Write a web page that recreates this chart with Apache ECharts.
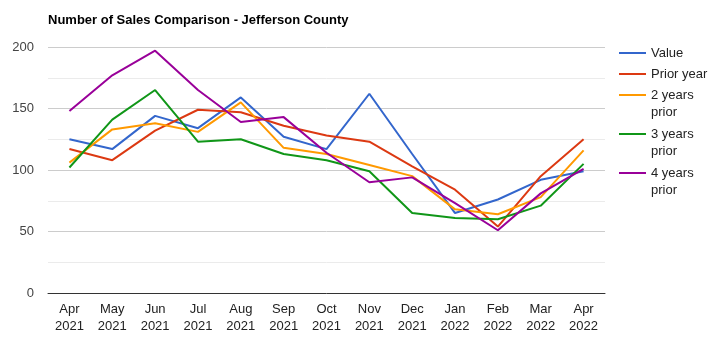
<!DOCTYPE html>
<html>
<head>
<meta charset="utf-8">
<script src="https://cdn.jsdelivr.net/npm/echarts@6/dist/echarts.min.js"></script>
<style>
  html, body { margin: 0; padding: 0; background: #fff; }
  #chart { width: 716px; height: 352px; }
</style>
</head>
<body>
<div id="chart"></div>
<script>
const months = ["Apr\n2021", "May\n2021", "Jun\n2021", "Jul\n2021", "Aug\n2021", "Sep\n2021", "Oct\n2021",
    "Nov\n2021", "Dec\n2021", "Jan\n2022", "Feb\n2022", "Mar\n2022", "Apr\n2022"];

const value = [125, 117, 144, 134, 159, 127, 117, 162, 113, 65, 76, 92, 99];
const priorYear = [117, 108, 132, 149, 147, 136, 128, 123, 103, 84, 54, 95, 125];
const twoYears = [106, 133, 138, 131, 155, 118, 113, 104, 95, 68, 64, 78, 116];
const threeYears = [102, 141, 165, 123, 125, 113, 108, 99, 65, 61, 60, 71, 105];
const fourYears = [148, 177, 197, 165, 139, 143, 114, 90, 94, 73, 51, 81, 101];

const names = ["Value", "Prior year", "2 years prior", "3 years prior", "4 years prior"];
const colors = ["#3366cc", "#dc3912", "#ff9900", "#109618", "#990099"];
const allData = [value, priorYear, twoYears, threeYears, fourYears];

// legend rows: icon centre y for each entry
const legendY = [53, 74, 95, 134, 173];
const legendFont = { fontFamily: "Liberation Sans", fontSize: 13, color: "#222" };

const chart = echarts.init(document.getElementById("chart"));

// one legend per entry so the icon sits on the first text line
const legends = names.map((name, i) => ({
    data: [name],
    left: 619,
    top: legendY[i] - 9,
    padding: 0,
    icon: "rect",
    itemWidth: 27,
    itemHeight: 2,
    formatter: n => n.replace(" prior", ""),
    textStyle: Object.assign({ lineHeight: 18 }, legendFont)
}));

// the wrapped second line ("prior") of the long legend names
const wrapped = [];
names.forEach((name, i) => {
    if (name.indexOf(" prior") > 0) {
        wrapped.push({
            type: "text",
            left: 651,
            top: legendY[i] + 11,
            style: { text: "prior", font: "13px Liberation Sans", fill: "#222" }
        });
    }
});

chart.setOption({
    animation: false,
    title: {
        text: "Number of Sales Comparison - Jefferson County",
        left: 43,
        top: 9,
        textStyle: {
            fontFamily: "Liberation Sans",
            fontSize: 13,
            fontWeight: "bold",
            color: "#000"
        }
    },
    legend: legends,
    graphic: wrapped,
    grid: { left: 48, right: 111, top: 47, bottom: 59 },
    xAxis: {
        type: "category",
        data: months,
        axisTick: { show: false },
        axisLine: { lineStyle: { color: "#333", width: 1 } },
        axisLabel: {
            margin: 8,
            fontFamily: "Liberation Sans",
            fontSize: 13,
            lineHeight: 17,
            color: "#222"
        }
    },
    yAxis: {
        type: "value",
        min: 0,
        max: 200,
        interval: 50,
        axisLabel: {
            margin: 14,
            fontFamily: "Liberation Sans",
            fontSize: 13,
            color: "#444"
        },
        splitLine: { lineStyle: { color: "#cccccc" } },
        minorTick: { show: false, splitNumber: 2 },
        minorSplitLine: { show: true, lineStyle: { color: "#ebebeb" } }
    },
    series: names.map((name, i) => ({
        name: name,
        type: "line",
        data: allData[i],
        symbol: "none",
        color: colors[i],
        lineStyle: { width: 2 }
    }))
});
</script>
</body>
</html>
